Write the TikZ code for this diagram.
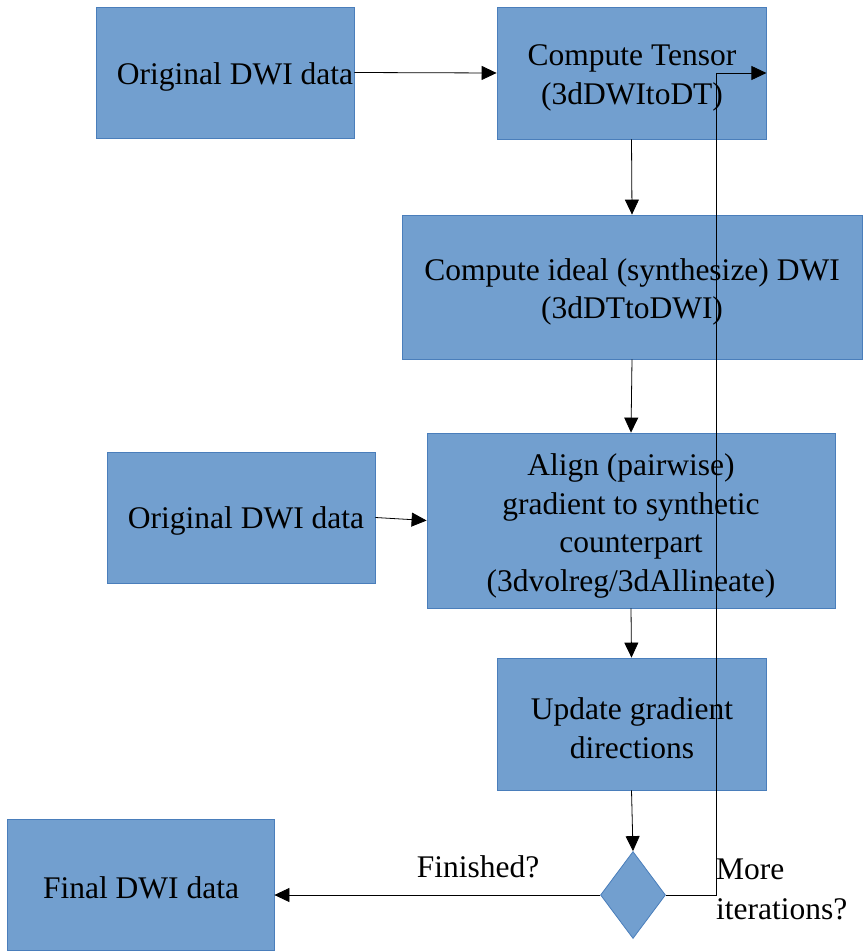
\documentclass[tikz,border=0pt]{standalone}
\usepackage{fontspec}
\setmainfont{Liberation Serif}
\usetikzlibrary{arrows.meta,shapes.geometric}
\definecolor{boxfill}{HTML}{729FCF}
\definecolor{boxline}{HTML}{4A7EBB}
\begin{document}
\begin{tikzpicture}[x=1pt,y=-1pt,
  box/.style={draw=boxline,line width=0.8pt,fill=boxfill,rectangle,inner sep=0pt},
  txt/.style={align=center,inner sep=0pt,font=\fontsize{31.5}{38.5}\selectfont},
  arr/.style={-{Triangle[length=15pt,width=14pt]},line width=0.8pt,black},
  lbl/.style={font=\fontsize{31.5}{40}\selectfont,inner sep=0pt}]
\useasboundingbox (0,0) rectangle (865,952);
\node[box,minimum width=258pt,minimum height=131pt] (b1) at (225,72.5) {};
\node[box,minimum width=269pt,minimum height=132pt] (b2) at (631.5,73) {};
\node[box,minimum width=460pt,minimum height=144pt] (b3) at (632,287) {};
\node[box,minimum width=268pt,minimum height=131pt] (b4) at (241,517.5) {};
\node[box,minimum width=408pt,minimum height=175pt] (b5) at (631,520.5) {};
\node[box,minimum width=269pt,minimum height=132pt] (b6) at (631.5,724) {};
\node[box,minimum width=267pt,minimum height=131pt] (b7) at (140.5,884.5) {};
\node[diamond,draw=boxline,line width=0.8pt,fill=boxfill,minimum width=65pt,minimum height=87pt,inner sep=0pt] (d) at (633,895) {};
\node[txt] (t1) at (235,77) {Original DWI data};
\node[txt] (t2) at (632,78) {Compute Tensor\\(3dDWItoDT)};
\node[txt] (t3) at (632,292) {Compute ideal (synthesize) DWI\\(3dDTtoDWI)};
\node[txt] (t4) at (246,521) {Original DWI data};
\node[txt] (t5) at (631,526) {Align (pairwise)\\gradient to synthetic\\counterpart\\(3dvolreg/3dAllineate)};
\node[txt] (t6) at (632,728) {Update gradient\\directions};
\node[txt] (t7) at (141,888) {Final DWI data};
\node[lbl] (fin) at (478,867) {Finished?};
\node[lbl,align=left,anchor=west] (more) at (716,889) {More\\iterations?};
\coordinate (k) at (716,895);
\draw[arr] (b1.east) -- (b2.west);
\draw[arr] (b2.south) -- (b3.north);
\draw[arr] (b3.south) -- (b5.north);
\draw[arr] (b4.east) -- (b5.west);
\draw[arr] (b5.south) -- (b6.north);
\draw[arr] (b6.south) -- (d.north);
\draw[arr] (d.west) -- (d.west -| b7.east);
\draw[arr] (d.east) -- (k) |- (b2.east);
\end{tikzpicture}
\end{document}
